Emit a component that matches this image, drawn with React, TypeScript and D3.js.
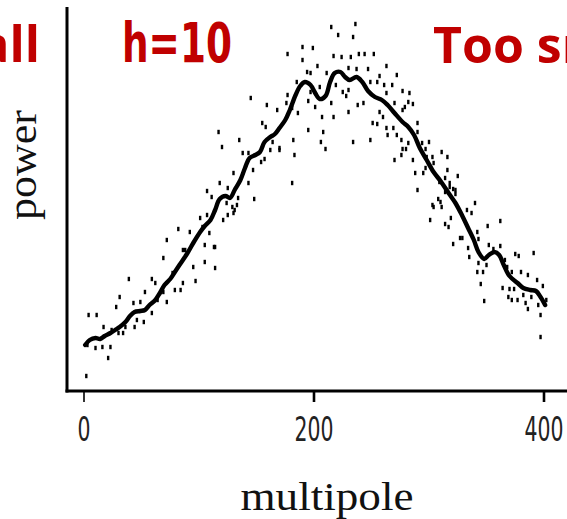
import React from "react";
import * as d3 from "d3";

const multipoleTicks = [0, 200, 400];
const xTitle = "multipole";
const yTitle = "power";
const titleCenter = "h=10";
const titleLeft = "Too small";
const titleRight = "Too small";

// smoothed spectrum (multipole, power)
const curveL = [1,5,10,14,18,23,27,31,36,40,44,49,53,57,62,66,70,75,79,83,90,95,101,105,110,114,118,123,127,131,136,140,144,149,153,157,162,166,170,175,179,184,188,192,197,201,205,210,214,218,223,227,231,237,242,247,253,259,264,270,277,282,287,292,298,304,310,317,323,329,334,339,343,348,352,357,361,365,370,377,382,388,393,397,401];
const curveP = [460,510,530,520,550,580,610,640,690,750,790,800,810,860,910,980,1060,1120,1190,1260,1380,1480,1590,1650,1710,1810,1920,1950,1930,2010,2110,2230,2330,2360,2390,2490,2540,2570,2630,2710,2810,2960,3050,3090,3060,2980,2920,2950,3090,3180,3190,3140,3110,3140,3090,3000,2940,2910,2860,2780,2690,2640,2560,2430,2310,2190,2100,1980,1880,1750,1630,1510,1390,1320,1360,1390,1360,1260,1150,1080,1030,1010,1000,940,860];

// raw measurements (multipole, power)
const dotL = [2,3,4,11,10,16,17,21,23,24,28,30,31,34,36,39,43,44,46,49,52,53,59,59,62,64,69,69,72,72,77,79,82,84,86,88,92,95,97,101,105,107,114,114,121,124,130,133,
159,176,181,168,186,195,117,135,120,155,158,164,162,170,182,183,138,143,154,157,130,147,143,181,148,118,107,111,125,134,129,131,125,103,109,105,113,86,145,
215,236,221,234,190,199,177,190,217,224,232,239,244,252,203,230,237,247,263,194,197,211,257,272,185,205,219,225,230,249,255,261,268,277,283,177,201,197,263,228,195,215,201,238,243,270,277,230,257,207,217,260,251,255,263,269,208,264,272,206,234,249,276,282,210,280,276,270,170,286,290,294,300,303,304,311,316,316,288,295,290,325,323,318,309,314,
279,282,286,290,277,297,298,297,314,318,321,323,308,310,304,311,340,333,337,301,319,314,317,351,327,342,343,321,334,335,352,
362,356,362,391,375,378,343,342,347,350,366,368,372,380,386,394,399,345,364,370,374,369,372,377,382,389,384,348,395,402,386,397,397,303,329];
const dotP = [150,460,760,760,430,440,640,330,440,610,840,580,940,580,640,1120,880,640,710,890,690,990,1120,780,1080,910,1330,990,1510,890,1180,1010,1620,1010,1080,1410,1590,1240,1100,1730,1290,1760,1440,1230,1710,1880,1780,1860,
2860,2880,2830,2810,2780,2610,2590,2510,2440,2680,2640,2490,2410,2410,2510,2360,2380,2380,2290,2320,2180,2210,2080,2080,1920,2080,2000,1940,2030,1930,1840,1810,1760,1640,1580,1460,1440,1410,2930,
3640,3670,3560,3540,3440,3430,3370,3310,3350,3340,3340,3370,3370,3370,3250,3230,3220,3220,3250,3190,3180,3180,3150,3160,3090,3040,3060,2990,3010,3090,3090,3060,3060,3000,2980,2960,2980,2990,2980,2950,2900,2880,2840,2860,2880,2880,2810,2790,2790,2740,2740,2740,2680,2670,2630,2630,2590,2560,2560,2490,2490,2510,2510,2480,2420,2420,2360,2310,2430,2310,2590,2480,2490,2340,2280,2390,2340,2210,2180,2180,2010,2150,2010,2040,2090,1990,
2840,2890,2870,2680,2420,2420,2340,2230,2130,2080,2020,1970,1920,1890,1840,1840,1880,1810,1780,1710,1730,1670,1640,1650,1530,1590,1520,1470,1430,1340,1460,
1700,1420,1450,1380,1370,1350,1280,1190,1190,1260,1310,1240,1190,1190,1160,1110,1050,1070,1030,1020,1020,940,910,910,960,940,880,900,860,910,820,760,540,1860,1530];

const W = 567;
const H = 519;

export default function App() {
  const x = d3.scaleLinear().domain([0, 400]).range([84, 544]);
  const y = d3.scaleLinear().domain([0, 3860]).range([391, 5]);
  const axisX = 67;
  const axisY = 391;

  const pts = curveL.map((l, i) => [l, curveP[i]] as [number, number]);
  const line = d3
    .line<[number, number]>()
    .x((d) => x(d[0]))
    .y((d) => y(d[1]))
    .curve(d3.curveCatmullRom.alpha(0.5));

  const dots = dotL.map((l, i) => ({ l, p: dotP[i] }));
  const red = "#C00000";

  return (
    <svg
      width={W}
      height={H}
      viewBox={`0 0 ${W} ${H}`}
      style={{ position: "absolute", left: 0, top: 0, background: "#fff" }}
    >
      <defs>
        <filter id="soft" x="-5%" y="-5%" width="110%" height="110%">
          <feGaussianBlur stdDeviation="0.55" />
        </filter>
      </defs>
      <rect x={0} y={0} width={W} height={H} fill="#fff" />

      {/* titles */}
      <text
        x={40}
        y={62}
        textAnchor="end"
        fill={red}
        fontFamily="'Open Sans', 'Liberation Sans', sans-serif"
        fontWeight={700}
        fontSize={50}
      >
        {titleLeft}
      </text>
      <text
        x={122}
        y={62}
        fill={red}
        fontFamily="'DejaVu Sans', sans-serif"
        fontWeight={700}
        fontSize={55}
        textLength={110}
        lengthAdjust="spacingAndGlyphs"
      >
        {titleCenter}
      </text>
      <text
        x={433}
        y={63}
        fill={red}
        fontFamily="'Open Sans', 'Liberation Sans', sans-serif"
        fontWeight={700}
        fontSize={50}
      >
        {titleRight}
      </text>

      <g filter="url(#soft)">
        {/* dots */}
        {dots.map((d, i) => (
          <rect
            key={i}
            x={x(d.l) - 1.2}
            y={y(d.p) - 2.2}
            width={2.4}
            height={4.4}
            fill="#000"
          />
        ))}
        {/* curve */}
        <path
          d={line(pts) || ""}
          fill="none"
          stroke="#000"
          strokeWidth={4.4}
          strokeLinejoin="round"
          strokeLinecap="round"
        />
      </g>

      {/* axes */}
      <line x1={axisX} y1={7} x2={axisX} y2={axisY + 1.5} stroke="#000" strokeWidth={3} />
      <line x1={axisX - 1.5} y1={axisY} x2={W} y2={axisY} stroke="#000" strokeWidth={3} />
      {multipoleTicks.map((t) => (
        <g key={t}>
          <line x1={x(t)} y1={axisY} x2={x(t)} y2={axisY + 11} stroke="#000" strokeWidth={t === 0 ? 1.6 : 2.6} />
          <text
            x={x(t)}
            y={441}
            textAnchor="middle"
            fontFamily="'DejaVu Sans', sans-serif"
            fontSize={34}
            fill="#222"
            textLength={String(t).length * 13}
            lengthAdjust="spacingAndGlyphs"
          >
            {t}
          </text>
        </g>
      ))}

      {/* axis titles */}
      <text
        x={327}
        y={510}
        textAnchor="middle"
        fontFamily="'Liberation Serif', serif"
        fontSize={40}
        fill="#111"
        textLength={173}
        lengthAdjust="spacingAndGlyphs"
      >
        {xTitle}
      </text>
      <text
        transform={`translate(36,165) rotate(-90)`}
        textAnchor="middle"
        fontFamily="'Liberation Serif', serif"
        fontSize={40}
        fill="#111"
        textLength={110}
        lengthAdjust="spacingAndGlyphs"
      >
        {yTitle}
      </text>
    </svg>
  );
}
